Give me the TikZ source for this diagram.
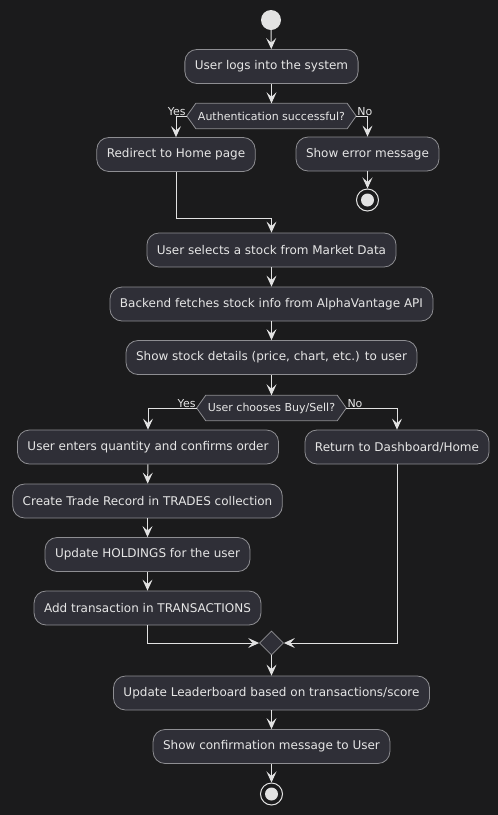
\documentclass[tikz,border=0pt]{standalone}
\usepackage{fontspec}
\setmainfont{DejaVu Sans}
\usetikzlibrary{arrows.meta,shapes.geometric,backgrounds}
\definecolor{bg}{HTML}{1B1B1C}
\definecolor{boxfill}{HTML}{2F2F37}
\definecolor{boxline}{HTML}{8E8E92}
\definecolor{txt}{HTML}{E6E6E6}
\definecolor{wire}{HTML}{E2E2E2}
\begin{document}
\begin{tikzpicture}[x=1pt,y=-1pt,
  act/.style={draw=boxline, fill=boxfill, rounded corners=12pt, minimum height=34pt,
    inner xsep=10pt, inner ysep=0pt, text=txt, font=\fontsize{12}{14}\selectfont, line width=0.8pt},
  deci/.style={inner xsep=2pt, inner ysep=0pt, minimum height=25pt, text=txt,
    font=\fontsize{11}{13}\selectfont},
  hexa/.style={draw=boxline, fill=boxfill, line width=0.8pt},
  lbl/.style={text=txt, font=\fontsize{11}{13}\selectfont, inner sep=0pt},
  flow/.style={draw=wire, line width=1pt, -{Stealth[length=11pt,width=10pt,inset=4.5pt]}},
  plain/.style={draw=wire, line width=1pt},
  startdot/.style={circle, fill=wire, minimum size=20pt, inner sep=0pt},
  enddot/.style={circle, draw=wire, line width=1pt, minimum size=22pt, inner sep=0pt,
    path picture={\fill[wire] (path picture bounding box.center) circle (6.5pt);}}
]
\begin{scope}[on background layer]
\fill[bg] (0,0) rectangle (498,815);
\end{scope}
\useasboundingbox (0,0) rectangle (498,815);

\node[startdot] (s) at (271,20) {};
\node[act] (a1) at (271.5,66.5) {User logs into the system};

% decision 1
\node[deci] (d1) at (271.5,116) {Authentication successful?};
\begin{scope}[on background layer]
\path[hexa] (d1.north west) -- (d1.north east) -- ([xshift=9pt]d1.east)
  -- (d1.south east) -- (d1.south west) -- ([xshift=-9pt]d1.west) -- cycle;
\end{scope}
\coordinate (d1r) at ([xshift=9pt]d1.east);
\coordinate (d1l) at ([xshift=-9pt]d1.west);
\node[lbl, anchor=south east] (y1) at ([xshift=-1pt]d1l) {Yes};
\node[lbl, anchor=south west] (n1) at ([xshift=1pt]d1r) {No};

\node[act] (a2) at (176,154.5) {Redirect to Home page};
\node[act] (a3) at (367.5,154) {Show error message};
\node[enddot] (e1) at (367.5,200) {};

\node[act] (a4) at (271.5,250) {User selects a stock from Market Data};
\node[act] (a5) at (271.5,304) {Backend fetches stock info from AlphaVantage API};
\node[act] (a6) at (271.5,357.5) {Show stock details (price, chart, etc.) to user};

% decision 2
\node[deci] (d2) at (271.5,408) {User chooses Buy/Sell?};
\begin{scope}[on background layer]
\path[hexa] (d2.north west) -- (d2.north east) -- ([xshift=9pt]d2.east)
  -- (d2.south east) -- (d2.south west) -- ([xshift=-9pt]d2.west) -- cycle;
\end{scope}
\coordinate (d2r) at ([xshift=9pt]d2.east);
\coordinate (d2l) at ([xshift=-9pt]d2.west);
\node[lbl, anchor=south east] (y2) at ([xshift=-1pt]d2l) {Yes};
\node[lbl, anchor=south west] (n2) at ([xshift=1pt]d2r) {No};

\node[act] (b1) at (148,447) {User enters quantity and confirms order};
\node[act] (c1) at (397,447) {Return to Dashboard/Home};
\node[act] (b2) at (147.5,501) {Create Trade Record in TRADES collection};
\node[act] (b3) at (147.5,554.5) {Update HOLDINGS for the user};
\node[act] (b4) at (147.5,608) {Add transaction in TRANSACTIONS};

% merge
\node[diamond, draw=boxline, fill=boxfill, line width=0.8pt,
  minimum width=24pt, minimum height=24pt, inner sep=0pt] (m) at (271.5,643) {};

\node[act] (a7) at (271.5,693) {Update Leaderboard based on transactions/score};
\node[act] (a8) at (271.5,746.5) {Show confirmation message to User};
\node[enddot] (e2) at (271.5,794) {};

% connectors
\draw[flow] (s) -- (a1);
\draw[flow] (a1) -- (d1);
\draw[flow] (d1l) -| (a2.north);
\draw[flow] (d1r) -| (a3.north);
\draw[flow] (a3) -- (e1);
\coordinate (j1) at (271.5,218);
\draw[plain] (a2.south) |- (j1);
\draw[flow] (j1) -- (a4.north);
\draw[flow] (a4) -- (a5);
\draw[flow] (a5) -- (a6);
\draw[flow] (a6) -- (d2);
\draw[flow] (d2l) -| (b1.north);
\draw[flow] (d2r) -| (c1.north);
\draw[flow] (b1) -- (b2);
\draw[flow] (b2) -- (b3);
\draw[flow] (b3) -- (b4);
\draw[flow] (b4.south) |- (m.west);
\draw[flow] (c1.south) |- (m.east);
\draw[flow] (m.south) -- (a7);
\draw[flow] (a7) -- (a8);
\draw[flow] (a8) -- (e2);
\end{tikzpicture}
\end{document}
